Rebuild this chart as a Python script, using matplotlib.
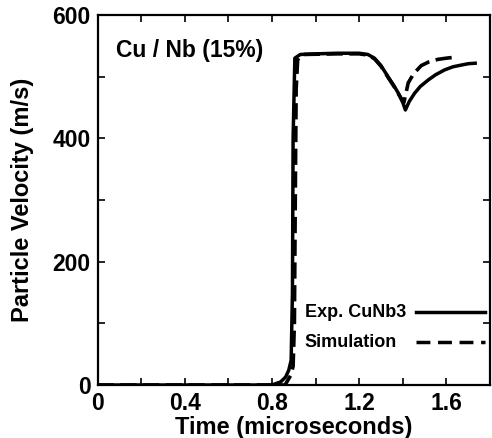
import matplotlib
matplotlib.use("Agg")
import matplotlib.pyplot as plt
from matplotlib.ticker import MultipleLocator
from matplotlib.lines import Line2D

# Data
exp_t = [0, 0.80, 0.84, 0.863, 0.877, 0.888, 0.894, 0.897, 0.905, 0.93, 1.0, 1.1,
         1.2, 1.24, 1.27, 1.30, 1.334, 1.36, 1.38, 1.40, 1.412, 1.43, 1.454, 1.48,
         1.518, 1.55, 1.592, 1.63, 1.671, 1.70, 1.74]
exp_v = [0, 0, 5, 13, 24, 40, 150, 400, 530, 536, 537, 538,
         538, 536, 530, 518, 499, 485, 473, 458, 446, 460, 473, 484,
         495, 503, 511, 516, 519, 521, 522]

sim_t = [0, 0.86, 0.885, 0.897, 0.903, 0.907, 0.911, 0.918, 0.94, 1.1, 1.2, 1.24,
         1.27, 1.30, 1.334, 1.36, 1.38, 1.405, 1.425, 1.45, 1.485, 1.52, 1.56,
         1.60, 1.625]
sim_v = [0, 0, 15, 30, 100, 300, 480, 528, 536, 537, 537, 535,
         529, 517, 498, 484, 472, 458, 490, 505, 518, 524, 528,
         530, 531]

labels = ["Exp. CuNb3", "Simulation"]
title_text = "Cu / Nb (15%)"
xlabel = "Time (microseconds)"
ylabel = "Particle Velocity (m/s)"

plt.rcParams['font.family'] = ['Liberation Sans', 'DejaVu Sans']
plt.rcParams['font.weight'] = 'bold'

fig = plt.figure(figsize=(4.92, 4.38), dpi=100)
ax = fig.add_axes([97.5/492, 53/438, 392.5/492, 370/438])

styles = [dict(color='black', lw=2.5, linestyle='-'),
          dict(color='black', lw=2.6, linestyle=(0, (4.5, 1.8)))]

ax.plot(exp_t, exp_v, solid_capstyle='butt', **styles[0])
ax.plot(sim_t, sim_v, **styles[1])

ax.set_xlim(0, 1.8)
ax.set_ylim(0, 600)
ax.xaxis.set_major_locator(MultipleLocator(0.4))
ax.xaxis.set_minor_locator(MultipleLocator(0.2))
ax.yaxis.set_major_locator(MultipleLocator(200))
ax.yaxis.set_minor_locator(MultipleLocator(100))
ax.set_xticks([0, 0.4, 0.8, 1.2, 1.6])
ax.set_xticklabels(["0", "0.4", "0.8", "1.2", "1.6"])
ax.tick_params(which='both', direction='in', top=True, right=True, length=5, width=1.2,
               labelsize=16.5, pad=5)
for lab in ax.get_xticklabels() + ax.get_yticklabels():
    lab.set_fontweight('bold')
for s in ax.spines.values():
    s.set_linewidth(1.6)

ax.set_xlabel(xlabel, fontsize=17, fontweight='bold', labelpad=1)
ax.set_ylabel(ylabel, fontsize=17, fontweight='bold', labelpad=13)

ax.text(0.046, 0.886, title_text, transform=ax.transAxes, fontsize=16.5, fontweight='bold',
        va='baseline', ha='left')

# Legend: labels left-aligned, sample lines on the right
leg_rows_y = [0.197, 0.116]
for lab, st, yy in zip(labels, styles, leg_rows_y):
    ax.text(0.528, yy, lab, transform=ax.transAxes, fontsize=13, fontweight='bold',
            va='center', ha='left')
    ls = st['linestyle'] if st['linestyle'] == '-' else (0, (4.0, 2.2))
    ax.add_line(Line2D([0.812, 0.987], [yy, yy], transform=ax.transAxes,
                       color=st['color'], lw=2.5, linestyle=ls))

fig.savefig("out.png", dpi=100)
